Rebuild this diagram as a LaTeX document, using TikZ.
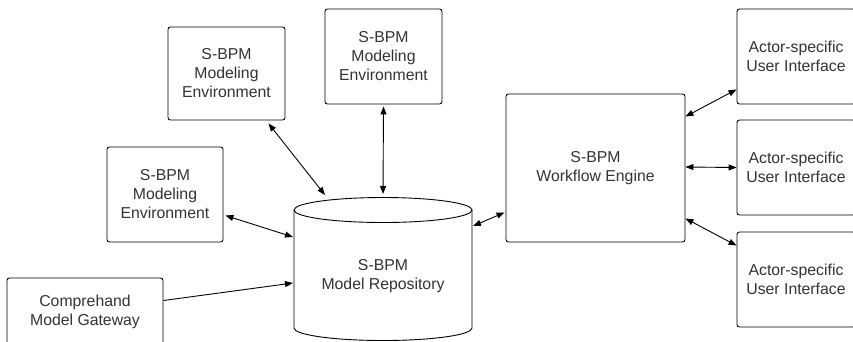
\documentclass[tikz,border=0pt]{standalone}
\usepackage{fontspec}
\setmainfont{Liberation Sans}
\usetikzlibrary{arrows.meta}
\begin{document}
\begin{tikzpicture}[x=1pt,y=-1pt,
  box/.style={draw, line width=0.9pt, rounded corners=2.5pt, inner sep=0pt, align=center, font=\fontsize{15.8}{19}\selectfont, text=black!80},
  lbl/.style={inner sep=0pt, align=center, font=\fontsize{15.8}{19}\selectfont, text=black!80},
  link/.style={line width=0.9pt, {Triangle[length=8pt,width=6pt]}-{Triangle[length=8pt,width=6pt]}},
  oneway/.style={line width=0.9pt, -{Triangle[length=8pt,width=6pt]}}]
\useasboundingbox (0,0) rectangle (853,341);
% boxes
\node[box, minimum width=117pt, minimum height=93pt] (envA) at (226.5,73.5) {S-BPM\\Modeling\\Environment};
\node[box, minimum width=117pt, minimum height=95pt] (envB) at (383.5,56.5) {S-BPM\\Modeling\\Environment};
\node[box, minimum width=116pt, minimum height=95pt] (envC) at (165,194.5) {S-BPM\\Modeling\\Environment};
\node[box, minimum width=156pt, minimum height=67pt] (gate) at (85,311.5) {Comprehand\\Model Gateway};
\node[box, minimum width=179pt, minimum height=148pt] (wfe) at (595.5,168) {S-BPM\\Workflow Engine};
\node[box, minimum width=118pt, minimum height=95pt] (ui1) at (796,56.5) {Actor-specific\\User Interface};
\node[box, minimum width=118pt, minimum height=95pt] (ui2) at (796,167.5) {Actor-specific\\User Interface};
\node[box, minimum width=118pt, minimum height=95pt] (ui3) at (796,279.5) {Actor-specific\\User Interface};
% cylinder repository
\draw[line width=0.9pt, fill=white] (294,210) -- (294,328) arc[start angle=180, end angle=0, x radius=89, y radius=12.5] -- (472,210);
\draw[line width=0.9pt] (383,210) ellipse[x radius=89, y radius=12.5];
\node[lbl] (repo) at (383,276) {S-BPM\\Model Repository};
\coordinate (rA) at (325,195);
\coordinate (rB) at (383,194);
\coordinate (rC) at (293,237);
\coordinate (rD) at (293,283);
\coordinate (rW) at (473,226);
% connectors
\draw[link] ([xshift=-17pt,yshift=-3pt]envA.south east) -- (rA);
\draw[link] ([yshift=-2pt]envB.south) -- (rB);
\draw[link] ([xshift=2pt,yshift=-21pt]envC.east) -- (rC);
\draw[oneway] ([yshift=11pt]gate.east) -- (rD);
\draw[link] (rW) -- ([xshift=-1pt,yshift=30pt]wfe.south west);
\draw[link] ([yshift=-23pt]wfe.north east) -- ([yshift=15pt]ui1.south west);
\draw[link] ([yshift=1pt]wfe.east) -- (ui2.west);
\draw[link] ([yshift=24pt]wfe.south east) -- ([yshift=-14pt]ui3.north west);
\end{tikzpicture}
\end{document}
